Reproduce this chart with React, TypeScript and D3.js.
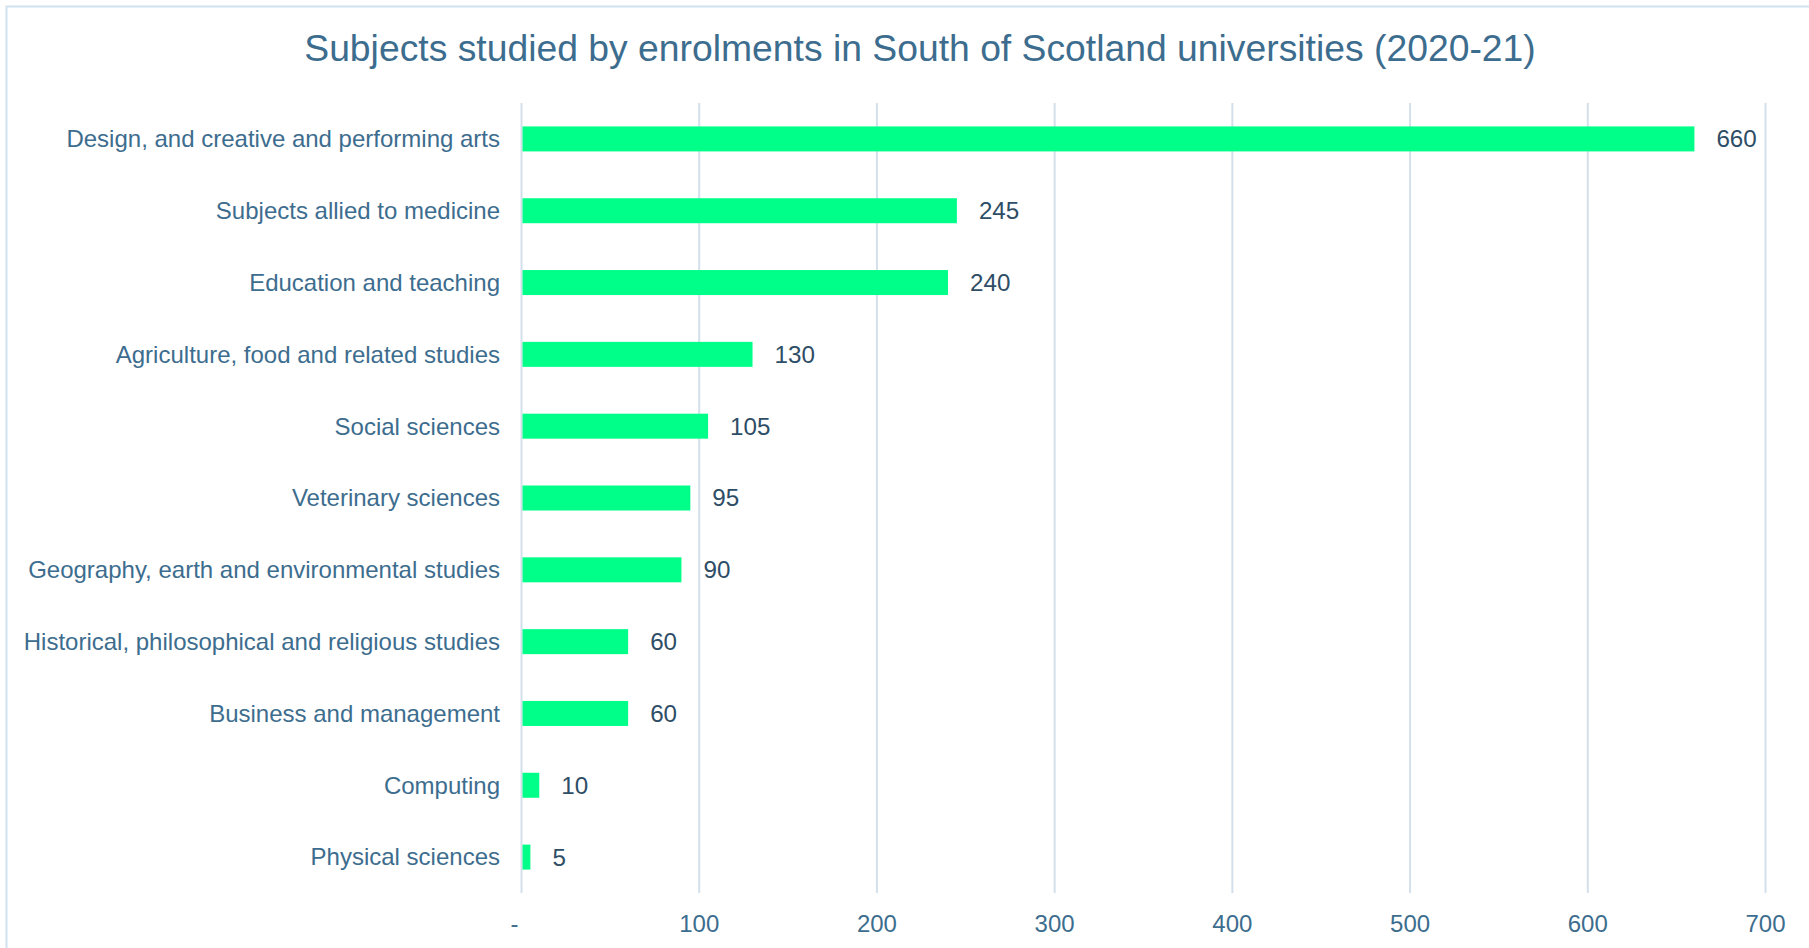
import React from "react";
import * as d3 from "d3";

const categories = [
  "Design, and creative and performing arts",
  "Subjects allied to medicine",
  "Education and teaching",
  "Agriculture, food and related studies",
  "Social sciences",
  "Veterinary sciences",
  "Geography, earth and environmental studies",
  "Historical, philosophical and religious studies",
  "Business and management",
  "Computing",
  "Physical sciences",
];
const values = [660, 245, 240, 130, 105, 95, 90, 60, 60, 10, 5];
const tickValues = [0, 100, 200, 300, 400, 500, 600, 700];
const title = "Subjects studied by enrolments in South of Scotland universities (2020-21)";

const W = 1809;
const H = 948;
const FONT = "'Liberation Sans', Arial, Helvetica, sans-serif";

export default function App() {
  const x = d3.scaleLinear().domain([0, 700]).range([521.5, 1765.5]);
  const y = d3.scaleBand().domain(categories).range([103, 893]).paddingInner(0.652).paddingOuter(0.326);
  const labelColor = "#3d6d8e";
  const valueColor = "#2e4d66";
  const gridColor = "#d3e0eb";
  return (
    <svg width={W} height={H} style={{ position: "absolute", left: 0, top: 0, background: "#fff" }} fontFamily={FONT}>
      <rect x={6.5} y={6.5} width={W + 20} height={H + 20} fill="none" stroke="#d2e1ef" strokeWidth={2} />
      <text x={920} y={61} textAnchor="middle" fontSize={37.3} fill="#3d6d8e">{title}</text>
      {tickValues.map((t) => (
        <g key={t}>
          <line x1={x(t)} x2={x(t)} y1={103} y2={893} stroke={gridColor} strokeWidth={2} />
          <text x={x(t)} dx={t === 0 ? -7 : 0} y={932} textAnchor="middle" fontSize={24} fill={labelColor}>
            {t === 0 ? "-" : d3.format("d")(t)}
          </text>
        </g>
      ))}
      {categories.map((c, i) => {
        const yy = y(c)!;
        const bw = y.bandwidth();
        return (
          <g key={c}>
            <rect x={x(0) + 1} y={yy} width={x(values[i]) - x(0) - 1} height={bw} fill="#00ff88" />
            <text x={500} y={yy + bw / 2} dy="0.35em" textAnchor="end" fontSize={24} fill={labelColor}>{c}</text>
            <text x={x(values[i]) + 22} y={yy + bw / 2} dy="0.35em" textAnchor="start" fontSize={24.2} fill={valueColor}>{values[i]}</text>
          </g>
        );
      })}
    </svg>
  );
}
